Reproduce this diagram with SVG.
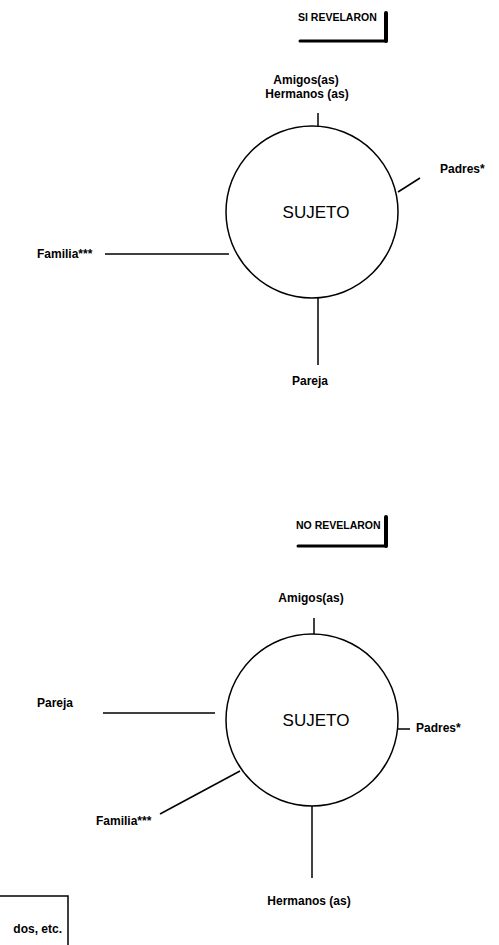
<svg xmlns="http://www.w3.org/2000/svg" width="499" height="945" viewBox="0 0 499 945">
  <style>
    .lbl { font-family: "Liberation Sans", Arial, sans-serif; font-size: 12px; font-weight: bold; fill: #000; }
    .title { font-family: "Liberation Sans", Arial, sans-serif; font-size: 10.5px; font-weight: bold; fill: #000; }
    .subj { font-family: "Liberation Sans", Arial, sans-serif; font-size: 17px; fill: #000; }
    .ring { fill: none; stroke: #000; stroke-width: 1.5; }
    .link { stroke: #000; stroke-width: 1.5; fill: none; }
    .bar { stroke: #000; fill: none; stroke-linecap: round; }
  </style>

  <!-- Upper panel: disclosed -->
  <g id="title-si">
    <text class="title" x="298" y="21">SI REVELARON</text>
    <line class="bar" x1="300" y1="41" x2="386" y2="41" stroke-width="3"/>
    <line class="bar" x1="386" y1="13" x2="386" y2="41" stroke-width="4"/>
  </g>
  <g id="sujeto-si">
    <circle class="ring" cx="312" cy="212" r="86"/>
    <text class="subj" x="316" y="218" text-anchor="middle">SUJETO</text>
  </g>
  <g id="amigos-si">
    <text class="lbl" x="306" y="84" text-anchor="middle">Amigos(as)</text>
    <text class="lbl" x="307" y="98" text-anchor="middle">Hermanos (as)</text>
  </g>
  <g id="padres-si"><text class="lbl" x="440" y="173">Padres*</text></g>
  <g id="familia-si"><text class="lbl" x="37" y="258">Familia***</text></g>
  <g id="pareja-si"><text class="lbl" x="310" y="385" text-anchor="middle">Pareja</text></g>

  <!-- Lower panel: not disclosed -->
  <g id="title-no">
    <text class="title" x="296" y="529">NO REVELARON</text>
    <line class="bar" x1="298" y1="546" x2="386" y2="546" stroke-width="3"/>
    <line class="bar" x1="386" y1="517" x2="386" y2="546" stroke-width="4"/>
  </g>
  <g id="sujeto-no">
    <circle class="ring" cx="312" cy="720" r="86"/>
    <text class="subj" x="316" y="726" text-anchor="middle">SUJETO</text>
  </g>
  <g id="amigos-no"><text class="lbl" x="311" y="602" text-anchor="middle">Amigos(as)</text></g>
  <g id="padres-no"><text class="lbl" x="416" y="732">Padres*</text></g>
  <g id="pareja-no"><text class="lbl" x="37" y="707">Pareja</text></g>
  <g id="familia-no"><text class="lbl" x="96" y="825">Familia***</text></g>
  <g id="hermanos-no"><text class="lbl" x="309" y="905" text-anchor="middle">Hermanos (as)</text></g>

  <!-- Footnote box, clipped at the page edge -->
  <g id="nota">
    <polyline class="link" points="0,896 68,896 68,945"/>
    <text class="lbl" x="62" y="933" text-anchor="end">dos, etc.</text>
  </g>

  <g id="connectors">
    <!-- upper -->
    <line class="link" x1="318" y1="113" x2="318" y2="127"/>
    <line class="link" x1="398" y1="192" x2="420" y2="178"/>
    <line class="link" x1="105" y1="254" x2="229" y2="254"/>
    <line class="link" x1="318" y1="297" x2="318" y2="365"/>
    <!-- lower -->
    <line class="link" x1="314" y1="618" x2="314" y2="634"/>
    <line class="link" x1="398" y1="729" x2="410" y2="729"/>
    <line class="link" x1="103" y1="713" x2="215" y2="713"/>
    <line class="link" x1="160" y1="814" x2="240" y2="771"/>
    <line class="link" x1="312" y1="806" x2="312" y2="878"/>
  </g>
</svg>
